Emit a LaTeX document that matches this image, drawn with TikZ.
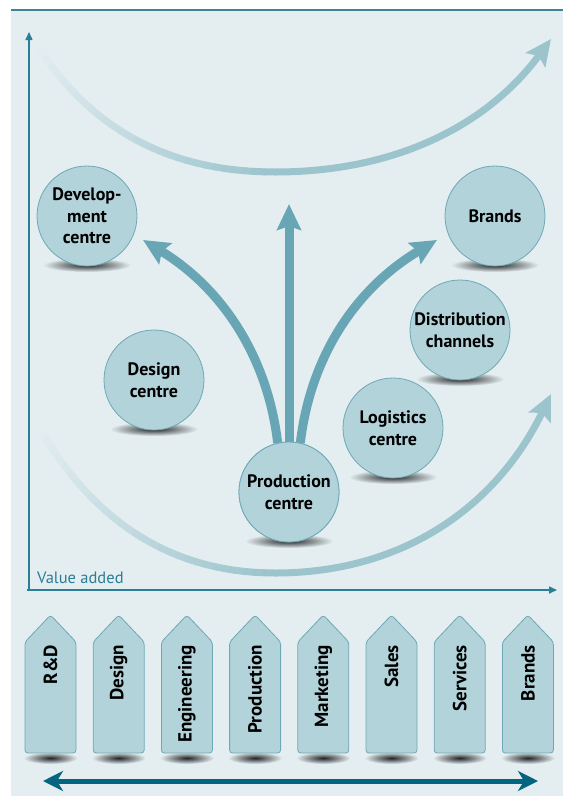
\documentclass[tikz,border=0pt]{standalone}
\usepackage{fontspec}
\setmainfont{PT Sans}
\usetikzlibrary{arrows.meta,fadings}
\definecolor{bgcol}{HTML}{E4EEF1}
\definecolor{topcol}{HTML}{3D8497}
\definecolor{axiscol}{HTML}{2A7E96}
\definecolor{circfill}{HTML}{B2D3DA}
\definecolor{circdraw}{HTML}{6EA7B5}
\definecolor{arrcol}{HTML}{68A6B5}
\definecolor{curvecol}{HTML}{9CC4CD}
\definecolor{darkcol}{HTML}{03657F}
\tikzfading[name=softfade, inner color=transparent!0, outer color=transparent!100]
\tikzset{
  circnode/.style={circle, fill=circfill, draw=circdraw, line width=0.8pt, minimum size=100pt, inner sep=0pt, align=center, font=\bfseries\fontsize{18}{21.5}\selectfont},
  shad/.style={fill=black, opacity=0.85, path fading=softfade},
  bigarrow/.style={arrcol, line width=9pt, -{Stealth[length=26pt,width=24pt,inset=4pt]}},
  boxshape/.style={fill=circfill, draw=circdraw, line width=0.8pt, rounded corners=3pt},
  boxlabel/.style={rotate=90, anchor=east, inner sep=0pt, font=\bfseries\fontsize{19}{19}\selectfont},
  axisline/.style={axiscol, line width=1.6pt, -{Triangle[length=8pt,width=7pt]}},
  curvehead/.style={curvecol, line width=7pt, -{Stealth[length=26pt,width=24pt,inset=5pt]}}
}
\newcommand\fadecurve[5]{%
  \path #1 .. controls #2 and #3 .. #4
    foreach \kk [evaluate=\kk as \pp using \kk/30] in {0,...,30} {coordinate[pos=\pp] (#5\kk)};
  \foreach \kk [evaluate=\kk as \nn using int(\kk+1), evaluate=\kk as \pc using int(\kk*100/29)] in {0,...,29}
    {\draw[curvecol!\pc!bgcol, line width=7pt, line cap=round] (#5\kk) -- (#5\nn);}
}
\begin{document}
\begin{tikzpicture}[x=1pt,y=-1pt]
\useasboundingbox (0,0) rectangle (563,796);
\fill[white] (0,0) rectangle (563,796);
\fill[bgcol] (11,10) rectangle (563,796);
\draw[topcol, line width=2pt] (11,10) -- (563,10);

% axes
\coordinate (origin) at (29,590);
\coordinate (ytop) at (29,32);
\coordinate (xend) at (557,590);
\draw[axisline] (origin) -- (ytop);
\draw[axisline] (27,590) -- (xend);
\node[anchor=base west, text=axiscol, inner sep=0pt, font=\fontsize{16.5}{16.5}\selectfont] (va) at (37,583) {Value added};

% upper value curve
\fadecurve{(35,42)}{(90,130)}{(170,172)}{(275,172)}{ua}
\coordinate (uend) at (551,39);
\draw[curvehead] (ua30) .. controls (400,172) and (490,122) .. (uend);
% lower value curve
\fadecurve{(35,420)}{(90,520)}{(170,573)}{(275,573)}{la}
\coordinate (lend) at (551,394);
\draw[curvehead] (la30) .. controls (410,573) and (500,500) .. (lend);

% shadows of circles
\foreach \cx/\cy in {87/216,495/216,460/330,154/380,393/428,289/492}
  {\fill[shad] (\cx,\cy+49) ellipse [x radius=44pt, y radius=7pt];}

% circles
\node[circnode] (dev) at (87,216) {Develop-\\ment\\centre};
\node[circnode] (brands) at (495,216) {Brands};
\node[circnode] (dist) at (460,330) {Distribution\\channels};
\node[circnode] (design) at (154,380) {Design\\centre};
\node[circnode] (log) at (393,428) {Logistics\\centre};

% production arrows
\coordinate (lefttip) at (143,240);
\coordinate (uptip) at (289,204);
\coordinate (righttip) at (437,240);
\node[circnode] (prod) at (289,492) {};
\draw[bigarrow] (prod.103) .. controls (268,360) and (225,290) .. (lefttip);
\draw[bigarrow] (prod.north) -- (uptip);
\draw[bigarrow] (prod.77) .. controls (310,360) and (353,290) .. (righttip);
\node[circnode] (prodtext) at (289,492) {Production\\centre};

% value chain boxes
\foreach \i/\lab in {0/R\&D,1/Design,2/Engineering,3/Production,4/Marketing,5/Sales,6/Services,7/Brands}{
  \pgfmathsetmacro\L{25+68.2*\i}
  \pgfmathsetmacro\R{\L+51}
  \pgfmathsetmacro\C{\L+25.5}
  \fill[shad] (\C,758) ellipse [x radius=27pt, y radius=6pt];
  \draw[boxshape] (\L,753) -- (\L,642) -- (\C,615) -- (\R,642) -- (\R,753) -- cycle;
  \node[boxlabel] (box\i) at (\C,645) {\lab};
}

% double arrow
\coordinate (dl) at (43,781);
\coordinate (dr) at (538,781);
\draw[darkcol, line width=5pt, {Stealth[length=20pt,width=20pt,inset=6pt]}-{Stealth[length=20pt,width=20pt,inset=6pt]}] (dl) -- (dr);
\end{tikzpicture}
\end{document}
